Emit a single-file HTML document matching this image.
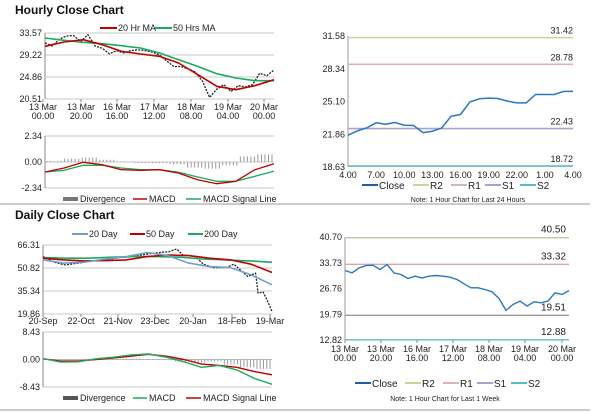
<!DOCTYPE html>
<html><head><meta charset="utf-8"><style>
html,body{margin:0;padding:0;background:#fff;}
svg{display:block;font-family:"Liberation Sans",sans-serif;}
</style></head><body>
<svg id="c" width="600" height="413" viewBox="0 0 600 413"></svg>
<script>
// ---------- data ----------
const weekClose=[31.62,30.99,32.34,32.97,33.06,31.89,33.24,30.99,30.54,29.46,30.09,29.64,30.09,30.27,30.09,29.82,29.19,28.02,26.94,26.94,26.49,25.86,24.06,20.82,22.44,23.34,21.99,23.16,22.89,23.34,25.59,25.14,26.22];
const hr20MA=[30.93,31.79,32.25,31.26,29.94,29.42,28.95,27.63,25.33,23.02,22.36,23.15,24.33];
const hr50MA=[32.58,32.12,31.72,31.46,31.06,30.6,29.61,28.29,26.97,25.52,24.66,24.14,24.14];
const hrMACD=[-0.9,-0.54,-0.03,-0.24,-0.69,-0.75,-0.69,-1.0,-1.59,-1.95,-1.74,-0.69,-0.15];
const hrSignal=[-0.9,-0.75,-0.3,-0.3,-0.54,-0.69,-0.69,-0.93,-1.35,-1.74,-1.74,-1.29,-0.84];
const hrDiv=[0.1,0.3,0.4,0.2,0.05,-0.1,-0.1,-0.2,-0.5,-0.6,-0.3,0.5,0.7];
const hrTicksY=["33.57","29.22","24.86","20.51"];
const hrTicksX=[["13 Mar","00.00"],["13 Mar","20.00"],["16 Mar","16.00"],["17 Mar","12.00"],["18 Mar","08.00"],["19 Mar","04.00"],["20 Mar","00.00"]];
const dayClose=[31.77,22.2,22.5,23.0,22.86,23.03,22.76,22.73,22.03,22.17,22.5,23.65,23.82,25.07,25.37,25.44,25.4,25.14,24.97,24.97,25.8,25.8,25.8,26.1,26.1];
dayClose[0]=21.77;
const dayLabels=["4.00","7.00","10.00","13.00","16.00","19.00","22.00","1.00","4.00"];
const levels24=[31.42,28.78,22.43,18.72];
const levelsWk=[40.50,33.32,19.51,12.88];
const dDays=[0,9,17,28,38,49,60,70,81,91,99,105,110,120,126,134,144,150,155,161,167,168,169,173,176,180];
const dClose=[58.5,54.7,52.9,54.1,55.6,56.3,57.8,58.5,60.1,61.2,61.8,63.6,59.6,58.5,53.4,51.1,51.1,53.4,49.6,45.1,47.4,41.7,33.9,34.6,29.5,21.6];
const d20=[56.3,54.1,54.7,56.9,58.5,61.2,59.2,54.1,51.8,51.1,46.2,39.5];
const d50=[57.4,56.3,55.6,55.8,56.3,58.5,59.6,59.2,57.4,56.3,53.4,47.8];
const d200=[57.8,57.4,57.4,58.1,58.5,58.5,58.1,56.9,56.3,55.6,54.7];
const dMACD=[0.3,-0.8,-0.7,0.2,0.7,1.4,1.7,0.7,-0.7,-2.4,-1.8,-3.2,-5.8,-7.6];
const dSignal=[0.2,-0.5,-0.5,0,0.5,1.0,1.6,1.0,0,-1.4,-1.8,-2.4,-3.7,-4.7];
const dDiv=[0.1,-0.2,-0.2,0.1,0.2,0.3,0.1,-0.2,-0.6,-0.9,-0.6,-1.5,-2.4,-2.9];
const dTicksY=["66.31","50.82","35.34","19.86"];
const dTicksX=["20-Sep","22-Oct","21-Nov","23-Dec","20-Jan","18-Feb","19-Mar"];
const wkTicksY=["40.70","33.73","26.76","19.79","12.82"];

// ---------- helpers ----------
const S=document.getElementById('c');const NS='http://www.w3.org/2000/svg';
function el(t,a,p){const e=document.createElementNS(NS,t);for(const k in a)e.setAttribute(k,a[k]);(p||S).appendChild(e);return e;}
function txt(x,y,s,o){o=o||{};const e=el('text',{x:x,y:y,'font-size':o.fs||9,fill:o.fill||'#222','text-anchor':o.a||'start','font-weight':o.fw||'normal'});e.textContent=s;return e;}
function line(x1,y1,x2,y2,c,w){return el('line',{x1:x1,y1:y1,x2:x2,y2:y2,stroke:c,'stroke-width':w||1});}
function path(xs,ys,c,w,dash){let d='';for(let i=0;i<xs.length;i++)d+=(i?'L':'M')+xs[i].toFixed(1)+','+ys[i].toFixed(1);const p=el('path',{d:d,fill:'none',stroke:c,'stroke-width':w||1.5,'stroke-linejoin':'round'});if(dash)p.setAttribute('stroke-dasharray',dash);return p;}
function even(n,x0,x1){const a=[];for(let i=0;i<n;i++)a.push(x0+(x1-x0)*i/(n-1));return a;}
function lin(d0,d1,r0,r1){return v=>r0+(v-d0)/(d1-d0)*(r1-r0);}

// separators
let e;
e=line(0,204,590,204,'#999',1);
e=line(0,410,590,410,'#999',1);

// ========== Hourly (top-left) ==========
e=txt(15,14,'Hourly Close Chart',{fs:12,fw:'bold',fill:'#111'});

line(100,28,117,28,'#c00000',2);e=txt(118,31,'20 Hr MA');
line(155,28,172,28,'#1aab5c',2);e=txt(173,31,'50 Hrs MA');
{
 const x0=45,x1=274,y=lin(33.57,20.51,33,99);
 hrTicksY.forEach(t=>{const yy=y(+t);line(x0,yy,x1,yy,'#c8c8c8',1);e=txt(x0-3,yy+3,t,{a:'end'});});
 line(x0,33,x0,99,'#888',1);
 const tx=[43,81,117,154,191,228,264];
 hrTicksX.forEach((t,i)=>{line(tx[i],99,tx[i],102,'#888');e=txt(tx[i],110,t[0],{a:'middle'});txt(tx[i],119,t[1],{a:'middle'});});
 e=path(even(weekClose.length,x0,x1),weekClose.map(y),'#222',1.3,'2,1.2');
 e=path(even(hr50MA.length,x0,x1),hr50MA.map(y),'#1aab5c',1.6);
 e=path(even(hr20MA.length,x0,x1),hr20MA.map(y),'#c00000',1.6);
 // MACD
 const my=lin(2.34,-2.34,136,188);
 ["2.34","0.00","-2.34"].forEach(t=>{const yy=my(+t);line(x0,yy,x1,yy,'#c8c8c8');txt(x0-3,yy+3,t,{a:'end'});});
 line(x0,136,x0,188,'#888');
 const bx=even(hrDiv.length*5,x0+2,x1-2);
 for(let i=0;i<bx.length;i++){const k=Math.min(hrDiv.length-1,Math.floor(i/5));const v=hrDiv[k];const a=my(0),b=my(v);e=line(bx[i],a,bx[i],b,'#999',1);}
 e=path(even(hrSignal.length,x0,x1),hrSignal.map(my),'#1aab5c',1.3);
 e=path(even(hrMACD.length,x0,x1),hrMACD.map(my),'#c00000',1.3);
 el('rect',{x:63,y:197,width:15,height:4,fill:'#777'});txt(80,202,'Divergence');
 line(133,199,147,199,'#c00000',1.5);txt(149,202,'MACD');
 line(186,199,201,199,'#1aab5c',1.5);txt(203,202,'MACD Signal Line');
}

// ========== 24 hour (top-right) ==========
{
 const x0=348,x1=573,y=lin(31.58,18.63,36,167);
 ["31.58","28.34","25.10","21.86","18.63"].forEach(t=>{txt(x0-3,y(+t)+3,t,{a:'end'});});
 line(x0,36,x0,167,'#999');
 const cols=['#cfcf9a','#ddb4b4','#a8a2d0','#5cbcc4'];
 levels24.forEach((v,i)=>{e=line(x0,y(v),x1,y(v),cols[i],1.6);txt(x1,y(v)-4,v.toFixed(2),{a:'end'});});
 const xs=even(dayClose.length,x0,x1);
 dayLabels.forEach((t,i)=>{txt(x0+(x1-x0)*i/8,178,t,{a:'middle'});});
 e=path(xs,dayClose.map(y),'#2a78c0',1.5);
 const lg=[['Close','#1f5fa8',362],['R2','#cfcf9a',413],['R1','#ddb4b4',451],['S1','#a8a2d0',485],['S2','#5cbcc4',520]];
 lg.forEach(l=>{line(l[2],185,l[2]+16,185,l[1],2);e=txt(l[2]+17,189,l[0],{fs:10});});
 txt(468,202,'Note: 1 Hour Chart for Last 24 Hours',{a:'middle',fs:7});
}

// ========== Daily (bottom-left) ==========
e=txt(15,219,'Daily Close Chart',{fs:12,fw:'bold',fill:'#111'});

line(72,234,88,234,'#6f9fd0',2);txt(89,237,'20 Day');
line(130,234,145,234,'#c00000',2);txt(146,237,'50 Day');
line(188,234,203,234,'#1aab5c',2);txt(204,237,'200 Day');
{
 const x0=43,x1=272,y=lin(66.31,19.86,245,314),dx=lin(0,180,x0,x1);
 dTicksY.forEach(t=>{const yy=y(+t);line(x0,yy,x1,yy,'#c8c8c8');txt(x0-3,yy+3,t,{a:'end'});});
 line(x0,245,x0,314,'#888');
 const tx=[43,81,118,155,193,232,270];
 dTicksX.forEach((t,i)=>{line(tx[i],314,tx[i],317,'#888');txt(tx[i],324,t,{a:'middle'});});
 e=path(dDays.map(dx),dClose.map(y),'#222',1.3,'2,1.2');
 e=path(even(d200.length,x0,x1),d200.map(y),'#1aab5c',1.6);
 e=path(even(d50.length,x0,x1),d50.map(y),'#c00000',1.6);
 e=path(even(d20.length,x0,x1),d20.map(y),'#6f9fd0',1.6);
 const my=lin(8.43,-8.43,332,387);
 ["8.43","0.00","-8.43"].forEach(t=>{const yy=my(+t);if(t!=="0.00")line(x0,yy,x1,yy,'#c8c8c8');txt(x0-3,yy+3,t,{a:'end'});});
 line(x0,332,x0,387,'#888');line(x0,my(0),x1,my(0),'#bbb');
 const bx=even(dDiv.length*5,x0+2,x1-2);
 for(let i=0;i<bx.length;i++){const k=Math.min(dDiv.length-1,Math.floor(i/5));const v=dDiv[k];e=line(bx[i],my(0),bx[i],my(v),'#999',1);}
 e=path(even(dSignal.length,x0,x1),dSignal.map(my),'#c00000',1.4);
 e=path(even(dMACD.length,x0,x1),dMACD.map(my),'#1aab5c',1.4);
 el('rect',{x:63,y:396,width:15,height:4,fill:'#555'});txt(80,401,'Divergence');
 line(133,398,147,398,'#1aab5c',1.5);txt(149,401,'MACD');
 line(186,398,201,398,'#c00000',1.5);txt(203,401,'MACD Signal Line');
}

// ========== Week (bottom-right) ==========
{
 const x0=345,x1=569,y=lin(40.70,12.82,237,340);
 wkTicksY.forEach(t=>{txt(x0-3,y(+t)+3,t,{a:'end'});});
 line(x0,237,x0,340,'#999');
 const cols=['#cfcf9a','#ddb4b4','#a8a2d0','#5cbcc4'];
 const cols2=['#c9c6a8','#d4a8a8','#999','#5cbcc4'];
 levelsWk.forEach((v,i)=>{e=line(x0,y(v),x1,y(v),cols2[i],1.4);txt(x1-3,y(v)-5,v.toFixed(2),{a:'end',fs:10});});
 const tx=[345,381,417,453,489,525,562];
 hrTicksX.forEach((t,i)=>{line(tx[i],340,tx[i],343,'#888');txt(tx[i],352,t[0],{a:'middle'});txt(tx[i],361,t[1],{a:'middle'});});
 e=path(even(weekClose.length,x0,x1),weekClose.map(y),'#2a78c0',1.4);
 const lg=[['Close','#1f5fa8',355],['R2','#cfcf9a',405],['R1','#ddb4b4',443],['S1','#a8a2d0',477],['S2','#5cbcc4',511]];
 lg.forEach(l=>{line(l[2],383,l[2]+16,383,l[1],2);txt(l[2]+17,387,l[0],{fs:10});});
 txt(445,401,'Note: 1 Hour Chart for Last 1 Week',{a:'middle',fs:7});
}
</script>
</body></html>
